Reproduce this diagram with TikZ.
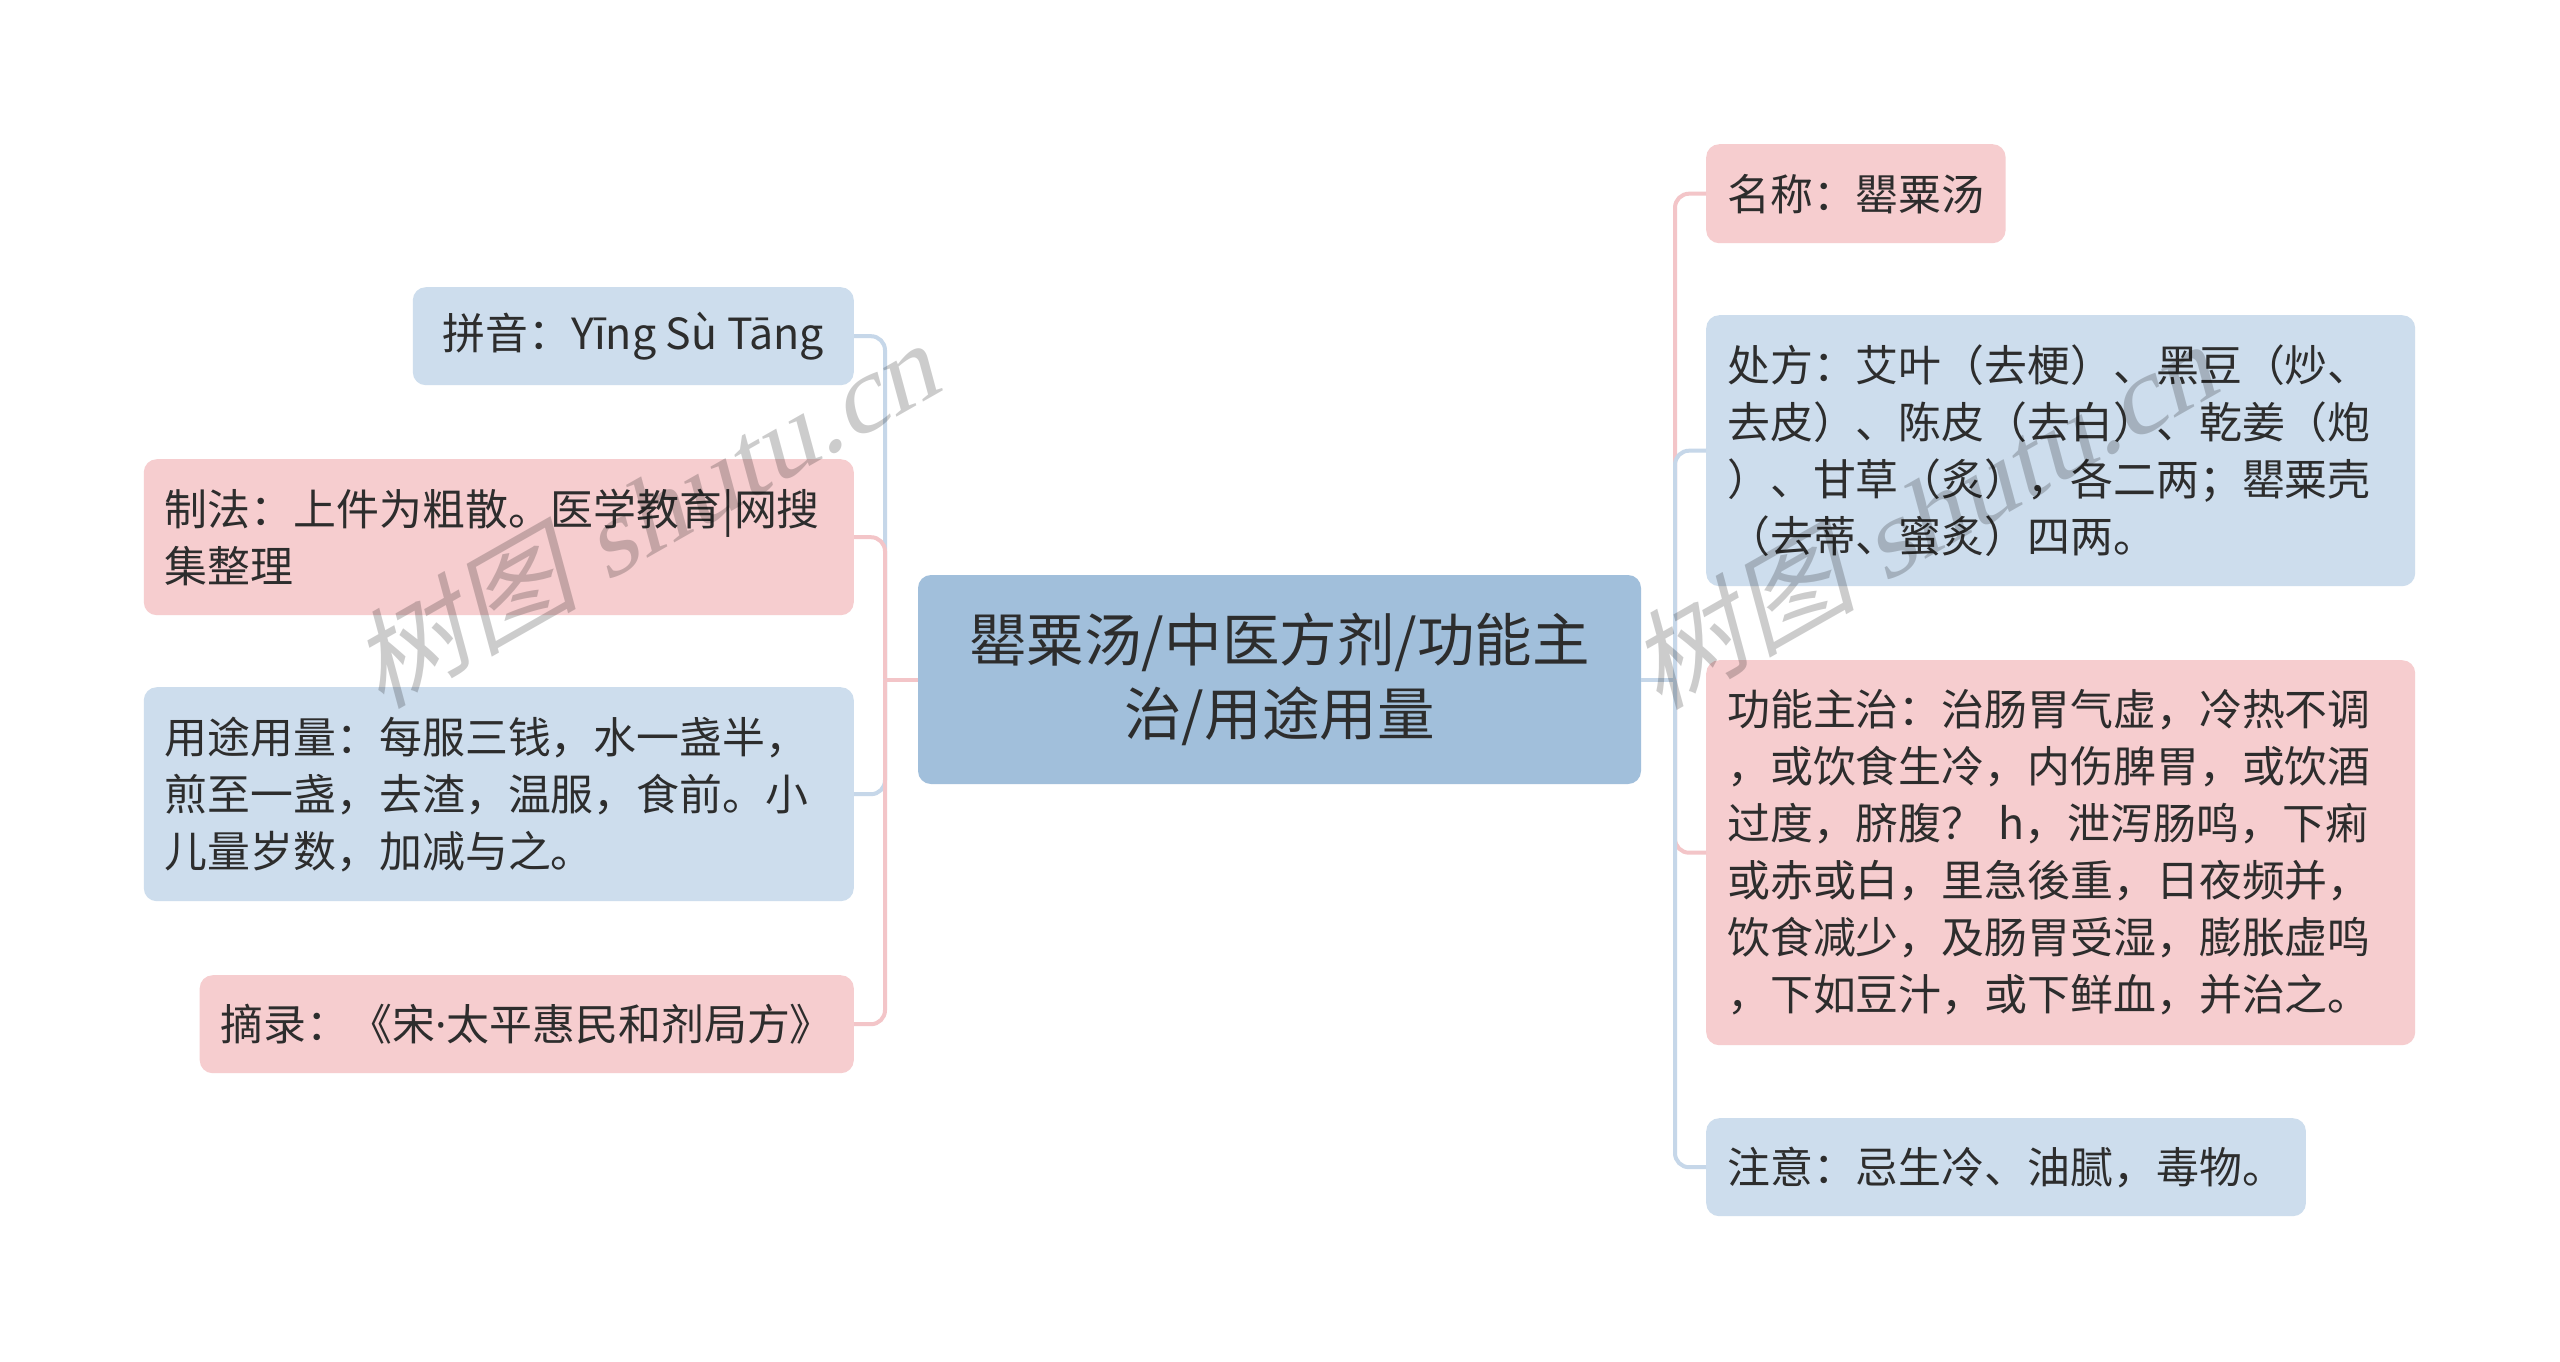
\documentclass[tikz,border=0pt]{standalone}
\usepackage{fontspec}
\setmainfont{Noto Sans CJK SC}
\newfontfamily\wmcjk{Noto Sans CJK SC}
\newfontfamily\wmserif{Liberation Serif}
\newfontfamily\latindot{Noto Sans}
\definecolor{pinkfill}{RGB}{246,205,207}
\definecolor{bluefill}{RGB}{205,221,237}
\definecolor{rootfill}{RGB}{161,191,219}
\definecolor{pinkline}{RGB}{243,197,200}
\definecolor{blueline}{RGB}{198,215,233}
\definecolor{txt}{RGB}{45,45,45}
\tikzset{
  box/.style={rounded corners=13pt, inner xsep=21pt, inner ysep=0pt, text=txt,
    font=\fontsize{42.9pt}{57pt}\selectfont, align=left},
  pinkbox/.style={box, fill=pinkfill},
  bluebox/.style={box, fill=bluefill},
  rootbox/.style={rounded corners=13pt, fill=rootfill, text=txt, align=center,
    font=\fontsize{57.5pt}{73.5pt}\selectfont, minimum width=723pt, minimum height=209pt},
  pl/.style={draw=pinkline, line width=4pt, rounded corners=14pt},
  bl/.style={draw=blueline, line width=4pt, rounded corners=14pt},
  wm/.style={text=black, text opacity=0.2, font=\fontsize{106pt}{106pt}\selectfont, inner sep=0pt,
    cm={0.95,0.54,-0.27,1,(0,0)}}
}
\begin{document}
\begin{tikzpicture}[x=1pt, y=-1pt]
\useasboundingbox (0,0) rectangle (2560,1361);
\fill[white] (0,0) rectangle (2560,1361);

% root
\node[rootbox] (root) at (1279.5,679.5) {罌粟汤/中医方剂/功能主\\治/用途用量};

% left children
\node[bluebox, anchor=north east, minimum height=98pt, minimum width=441pt] (py) at (854,287) {拼音：Yīng Sù Tāng};
\node[pinkbox, anchor=north east, minimum height=156pt, text width=668pt] (zf) at (854,459)
  {制法：上件为粗散。医学教育|网搜\\集整理};
\node[bluebox, anchor=north east, minimum height=214pt, text width=668pt] (yt) at (854,687)
  {用途用量：每服三钱，水一盏半，\\煎至一盏，去渣，温服，食前。小\\儿量岁数，加减与之。};
\node[pinkbox, anchor=north east, minimum height=98pt, minimum width=653pt] (zl) at (854,975) {摘录：《宋{\latindot ·}太平惠民和剂局方》};

% right children
\node[pinkbox, anchor=north west, minimum height=99pt] (mc) at (1706,144) {名称：罌粟汤};
\node[bluebox, anchor=north west, minimum height=271pt, text width=667pt] (cf) at (1706,315)
  {处方：艾叶（去梗）、黑豆（炒、\\去皮）、陈皮（去白）、乾姜（炮\\）、甘草（炙），各二两；罌粟壳\\（去蒂、蜜炙）四两。};
\node[pinkbox, anchor=north west, minimum height=385pt, text width=667pt] (gn) at (1706,660)
  {功能主治：治肠胃气虚，冷热不调\\，或饮食生冷，内伤脾胃，或饮酒\\过度，脐腹？ h，泄泻肠鸣，下痢\\或赤或白，里急後重，日夜频并，\\饮食减少，及肠胃受湿，膨胀虚鸣\\，下如豆汁，或下鲜血，并治之。};
\node[bluebox, anchor=north west, minimum height=98pt] (zy) at (1706,1118) {注意：忌生冷、油腻，毒物。};

% connectors
\coordinate (lt) at (885,679.5);
\coordinate (rt) at (1675,679.5);
\draw[bl] (lt) |- (py.east);
\draw[pl] (lt) |- (zf.east);
\draw[bl] (lt) |- (yt.east);
\draw[pl] (lt) |- (zl.east);
\draw[pl, rounded corners=0pt] (root.west) -- (lt);
\draw[pl] (rt) |- (mc.west);
\draw[bl] (rt) |- (cf.west);
\draw[pl] (rt) |- (gn.west);
\draw[bl] (rt) |- (zy.west);
\draw[bl, rounded corners=0pt] (root.east) -- (rt);

% watermarks
\node[wm] (wm1) at (652,510) {{\wmcjk 树图}\hspace{26pt}{\wmserif shutu.cn}};
\node[wm] (wm2) at (1930,511) {{\wmcjk 树图}\hspace{26pt}{\wmserif shutu.cn}};
\end{tikzpicture}
\end{document}
